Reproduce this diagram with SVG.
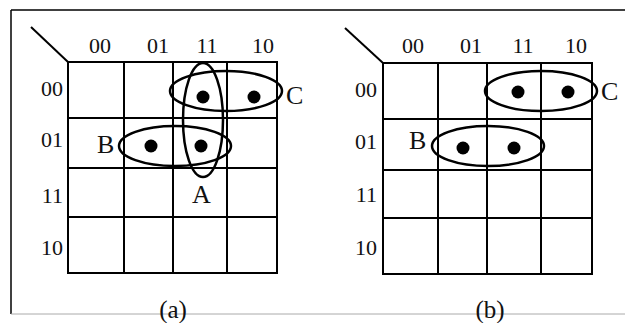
<svg xmlns="http://www.w3.org/2000/svg" width="625" height="323" viewBox="0 0 625 323">
<style>
.g{stroke:#000;stroke-width:2;fill:none}
.e{stroke:#000;stroke-width:2.5;fill:none}
.d{fill:#000}
.n{font-family:"Liberation Serif","Times New Roman",serif;font-size:22px;fill:#111}
.r{font-family:"Liberation Serif","Times New Roman",serif;font-size:22px;fill:#111;text-anchor:end}
.l{font-family:"Liberation Serif","Times New Roman",serif;font-size:26px;fill:#111}
.c{font-family:"Liberation Serif","Times New Roman",serif;font-size:25px;fill:#111;text-anchor:middle}
</style>
<rect width="625" height="323" fill="#fff"/>
<g id="frame">
<line x1="11" y1="10" x2="625" y2="10" stroke="#000" stroke-width="1.5"/>
<line x1="11" y1="10" x2="11" y2="314" stroke="#000" stroke-width="1.5"/>
<line x1="11" y1="314" x2="625" y2="314" stroke="#aaa" stroke-width="1"/>
</g>
<g id="mapA">
<line class="g" x1="31" y1="27" x2="68" y2="62"/>
<rect class="g" x="68" y="62" width="209" height="211"/>
<line class="g" x1="124" y1="62" x2="124" y2="273"/>
<line class="g" x1="173" y1="62" x2="173" y2="273"/>
<line class="g" x1="227" y1="62" x2="227" y2="273"/>
<line class="g" x1="68" y1="118" x2="277" y2="118"/>
<line class="g" x1="68" y1="168" x2="277" y2="168"/>
<line class="g" x1="68" y1="217" x2="277" y2="217"/>
<g class="n" text-anchor="middle">
<text x="100" y="53">00</text><text x="158" y="53">01</text><text x="207" y="53">11</text><text x="263" y="53">10</text>
</g>
<text class="r" x="63" y="96">00</text><text class="r" x="63" y="147">01</text><text class="r" x="63" y="203">11</text><text class="r" x="63" y="255">10</text>
<circle class="d" cx="203" cy="97" r="6.5"/><circle class="d" cx="254" cy="97" r="6.5"/>
<circle class="d" cx="151" cy="146" r="6.5"/><circle class="d" cx="201" cy="146" r="6.5"/>
<ellipse class="e" cx="226" cy="91" rx="56" ry="20"/>
<ellipse class="e" cx="175" cy="146" rx="56" ry="20"/>
<ellipse class="e" cx="203" cy="120" rx="20" ry="57"/>
<text class="l" x="286" y="104">C</text>
<text class="l" x="97" y="153">B</text>
<text class="l" x="192" y="203">A</text>
<text class="c" x="173" y="318">(a)</text>
</g>
<g id="mapB">
<line class="g" x1="345" y1="28" x2="383" y2="63"/>
<rect class="g" x="383" y="63" width="209" height="211"/>
<line class="g" x1="438" y1="63" x2="438" y2="274"/>
<line class="g" x1="487" y1="63" x2="487" y2="274"/>
<line class="g" x1="541" y1="63" x2="541" y2="274"/>
<line class="g" x1="383" y1="119" x2="592" y2="119"/>
<line class="g" x1="383" y1="170" x2="592" y2="170"/>
<line class="g" x1="383" y1="218" x2="592" y2="218"/>
<g class="n" text-anchor="middle">
<text x="413" y="53">00</text><text x="471" y="53">01</text><text x="523" y="53">11</text><text x="576" y="53">10</text>
</g>
<text class="r" x="377" y="97">00</text><text class="r" x="377" y="149">01</text><text class="r" x="377" y="202">11</text><text class="r" x="377" y="255">10</text>
<circle class="d" cx="518" cy="92" r="6.5"/><circle class="d" cx="568" cy="92" r="6.5"/>
<circle class="d" cx="463" cy="148" r="6.5"/><circle class="d" cx="514" cy="148" r="6.5"/>
<ellipse class="e" cx="541" cy="91" rx="56" ry="20"/>
<ellipse class="e" cx="488" cy="146" rx="56" ry="20"/>
<text class="l" x="601" y="100">C</text>
<text class="l" x="409" y="149">B</text>
<text class="c" x="490" y="318">(b)</text>
</g>
</svg>
